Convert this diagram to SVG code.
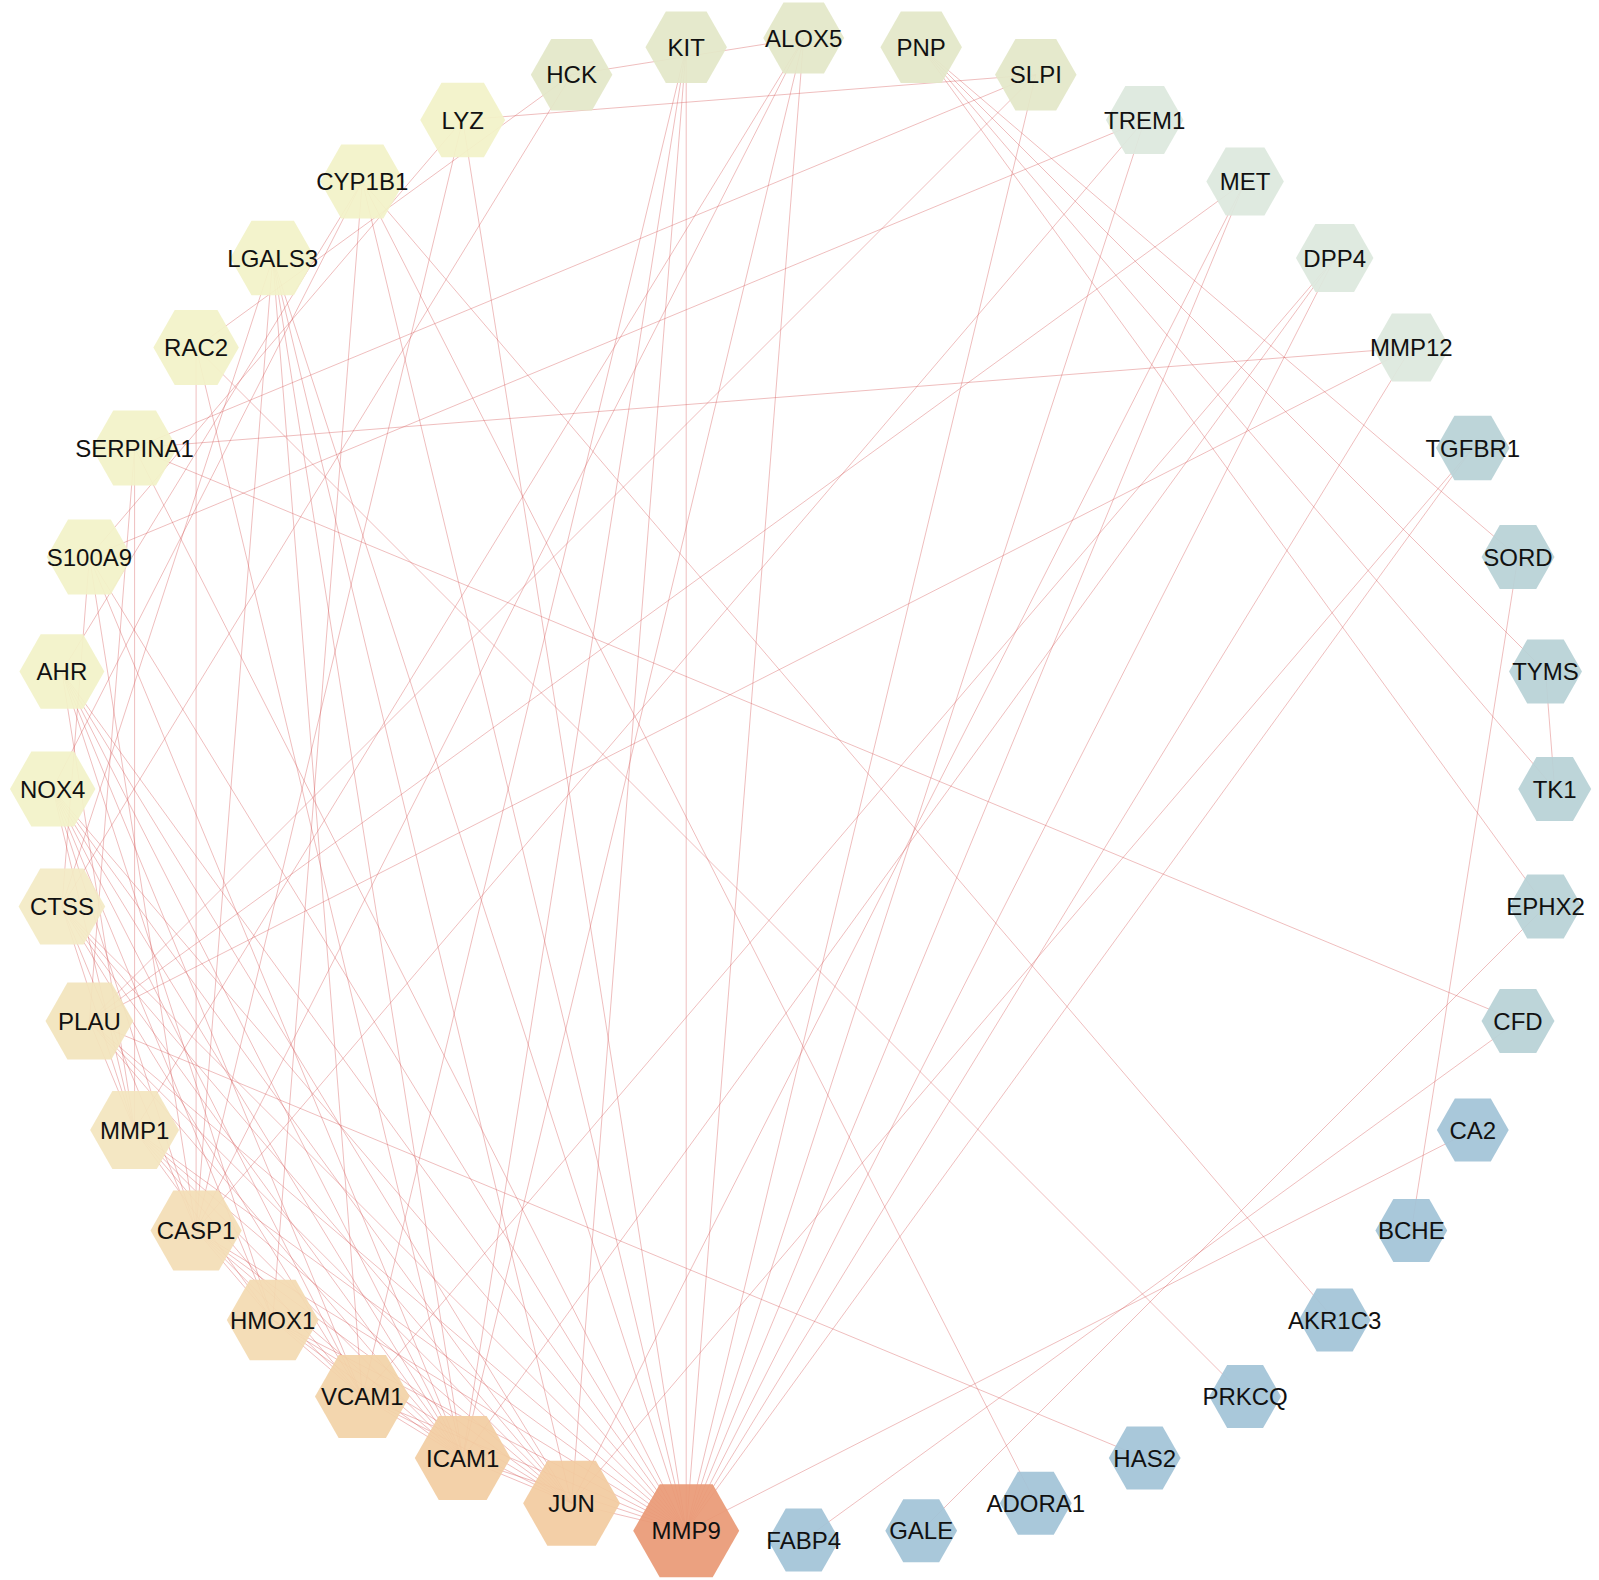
<svg xmlns="http://www.w3.org/2000/svg" xmlns:xlink="http://www.w3.org/1999/xlink" width="1599" height="1580" viewBox="0 0 1599 1580">
<defs>
<polygon id="hex" points="-0.57,0 -0.285,-0.5 0.285,-0.5 0.57,0 0.285,0.5 -0.285,0.5"/>
<style>
.e{stroke:#D85C5C;stroke-opacity:0.4;stroke-width:1;fill:none}
.n use{fill-opacity:0.93}
.n text{font-family:"Liberation Sans",Arial,Helvetica,sans-serif;font-size:24px;fill:#111;text-anchor:middle}
.y{fill:#F2F2C8}.g4{fill:#E3E7C8}.g3{fill:#DDE8DE}.g2{fill:#B8D2D6}.g1{fill:#A2C4D7}
</style>
</defs>
<rect width="1599" height="1580" fill="#fff"/>
<g id="edges" class="e">
<line x1="921.2" y1="47.2" x2="1518" y2="556.9"/>
<line x1="921.2" y1="47.2" x2="1545.5" y2="671.5"/>
<line x1="921.2" y1="47.2" x2="1554.7" y2="789"/>
<line x1="921.2" y1="47.2" x2="1545.5" y2="906.5"/>
<line x1="1545.5" y1="671.5" x2="1554.7" y2="789"/>
<line x1="1518" y1="556.9" x2="1411.3" y2="1230.4"/>
<line x1="1518" y1="1021.1" x2="134.6" y2="448"/>
<line x1="1518" y1="1021.1" x2="803.7" y2="1540"/>
<line x1="1545.5" y1="906.5" x2="921.2" y2="1530.8"/>
<line x1="686.2" y1="1530.8" x2="1472.8" y2="1130"/>
<line x1="1144.7" y1="1458.1" x2="89.4" y2="1021.1"/>
<line x1="1245.1" y1="1396.6" x2="196.1" y2="347.6"/>
<line x1="1334.7" y1="1320" x2="362.3" y2="181.4"/>
<line x1="1035.8" y1="1503.3" x2="362.3" y2="181.4"/>
<line x1="1411.3" y1="347.6" x2="134.6" y2="448"/>
<line x1="1411.3" y1="347.6" x2="89.4" y2="1021.1"/>
<line x1="1411.3" y1="347.6" x2="686.2" y2="1530.8"/>
<line x1="1245.1" y1="181.4" x2="89.4" y2="1021.1"/>
<line x1="1245.1" y1="181.4" x2="686.2" y2="1530.8"/>
<line x1="1245.1" y1="181.4" x2="571.6" y2="1503.3"/>
<line x1="1144.7" y1="119.9" x2="89.4" y2="556.9"/>
<line x1="1144.7" y1="119.9" x2="196.1" y2="1230.4"/>
<line x1="1144.7" y1="119.9" x2="686.2" y2="1530.8"/>
<line x1="1035.8" y1="74.7" x2="462.7" y2="119.9"/>
<line x1="1035.8" y1="74.7" x2="134.6" y2="448"/>
<line x1="1035.8" y1="74.7" x2="89.4" y2="1021.1"/>
<line x1="1035.8" y1="74.7" x2="686.2" y2="1530.8"/>
<line x1="686.2" y1="47.2" x2="686.2" y2="1530.8"/>
<line x1="686.2" y1="47.2" x2="571.6" y2="1503.3"/>
<line x1="686.2" y1="47.2" x2="462.7" y2="1458.1"/>
<line x1="686.2" y1="47.2" x2="362.3" y2="1396.6"/>
<line x1="571.6" y1="74.7" x2="803.7" y2="38"/>
<line x1="803.7" y1="38" x2="686.2" y2="1530.8"/>
<line x1="803.7" y1="38" x2="462.7" y2="1458.1"/>
<line x1="803.7" y1="38" x2="196.1" y2="1230.4"/>
<line x1="803.7" y1="38" x2="134.6" y2="1130"/>
<line x1="1334.7" y1="258" x2="686.2" y2="1530.8"/>
<line x1="1334.7" y1="258" x2="462.7" y2="1458.1"/>
<line x1="1334.7" y1="258" x2="362.3" y2="1396.6"/>
<line x1="1472.8" y1="448" x2="571.6" y2="1503.3"/>
<line x1="1472.8" y1="448" x2="686.2" y2="1530.8"/>
<line x1="571.6" y1="74.7" x2="196.1" y2="347.6"/>
<line x1="571.6" y1="74.7" x2="61.9" y2="906.5"/>
<line x1="462.7" y1="119.9" x2="686.2" y2="1530.8"/>
<line x1="196.1" y1="347.6" x2="196.1" y2="1230.4"/>
<line x1="196.1" y1="347.6" x2="462.7" y2="1458.1"/>
<line x1="134.6" y1="448" x2="686.2" y2="1530.8"/>
<line x1="89.4" y1="556.9" x2="61.9" y2="906.5"/>
<line x1="462.7" y1="119.9" x2="89.4" y2="556.9"/>
<line x1="462.7" y1="119.9" x2="196.1" y2="1230.4"/>
<line x1="272.7" y1="258" x2="686.2" y2="1530.8"/>
<line x1="272.7" y1="258" x2="571.6" y2="1503.3"/>
<line x1="272.7" y1="258" x2="462.7" y2="1458.1"/>
<line x1="272.7" y1="258" x2="362.3" y2="1396.6"/>
<line x1="272.7" y1="258" x2="196.1" y2="1230.4"/>
<line x1="272.7" y1="258" x2="61.9" y2="906.5"/>
<line x1="362.3" y1="181.4" x2="61.9" y2="671.5"/>
<line x1="362.3" y1="181.4" x2="272.7" y2="1320"/>
<line x1="362.3" y1="181.4" x2="686.2" y2="1530.8"/>
<line x1="362.3" y1="181.4" x2="52.7" y2="789"/>
<line x1="89.4" y1="556.9" x2="686.2" y2="1530.8"/>
<line x1="89.4" y1="556.9" x2="462.7" y2="1458.1"/>
<line x1="89.4" y1="556.9" x2="196.1" y2="1230.4"/>
<line x1="61.9" y1="671.5" x2="686.2" y2="1530.8"/>
<line x1="61.9" y1="671.5" x2="571.6" y2="1503.3"/>
<line x1="61.9" y1="671.5" x2="462.7" y2="1458.1"/>
<line x1="61.9" y1="671.5" x2="362.3" y2="1396.6"/>
<line x1="61.9" y1="671.5" x2="272.7" y2="1320"/>
<line x1="61.9" y1="671.5" x2="134.6" y2="1130"/>
<line x1="52.7" y1="789" x2="686.2" y2="1530.8"/>
<line x1="52.7" y1="789" x2="571.6" y2="1503.3"/>
<line x1="52.7" y1="789" x2="462.7" y2="1458.1"/>
<line x1="52.7" y1="789" x2="362.3" y2="1396.6"/>
<line x1="52.7" y1="789" x2="272.7" y2="1320"/>
<line x1="52.7" y1="789" x2="196.1" y2="1230.4"/>
<line x1="52.7" y1="789" x2="134.6" y2="1130"/>
<line x1="61.9" y1="906.5" x2="686.2" y2="1530.8"/>
<line x1="61.9" y1="906.5" x2="571.6" y2="1503.3"/>
<line x1="61.9" y1="906.5" x2="462.7" y2="1458.1"/>
<line x1="61.9" y1="906.5" x2="362.3" y2="1396.6"/>
<line x1="61.9" y1="906.5" x2="196.1" y2="1230.4"/>
<line x1="61.9" y1="906.5" x2="134.6" y2="1130"/>
<line x1="89.4" y1="1021.1" x2="686.2" y2="1530.8"/>
<line x1="89.4" y1="1021.1" x2="571.6" y2="1503.3"/>
<line x1="89.4" y1="1021.1" x2="462.7" y2="1458.1"/>
<line x1="89.4" y1="1021.1" x2="134.6" y2="448"/>
<line x1="89.4" y1="1021.1" x2="134.6" y2="1130"/>
<line x1="134.6" y1="1130" x2="686.2" y2="1530.8"/>
<line x1="134.6" y1="1130" x2="571.6" y2="1503.3"/>
<line x1="134.6" y1="1130" x2="462.7" y2="1458.1"/>
<line x1="134.6" y1="1130" x2="362.3" y2="1396.6"/>
<line x1="134.6" y1="1130" x2="272.7" y2="1320"/>
<line x1="196.1" y1="1230.4" x2="686.2" y2="1530.8"/>
<line x1="196.1" y1="1230.4" x2="571.6" y2="1503.3"/>
<line x1="196.1" y1="1230.4" x2="462.7" y2="1458.1"/>
<line x1="196.1" y1="1230.4" x2="362.3" y2="1396.6"/>
<line x1="196.1" y1="1230.4" x2="272.7" y2="1320"/>
<line x1="272.7" y1="1320" x2="686.2" y2="1530.8"/>
<line x1="272.7" y1="1320" x2="571.6" y2="1503.3"/>
<line x1="272.7" y1="1320" x2="462.7" y2="1458.1"/>
<line x1="272.7" y1="1320" x2="362.3" y2="1396.6"/>
<line x1="362.3" y1="1396.6" x2="686.2" y2="1530.8"/>
<line x1="362.3" y1="1396.6" x2="571.6" y2="1503.3"/>
<line x1="362.3" y1="1396.6" x2="462.7" y2="1458.1"/>
<line x1="462.7" y1="1458.1" x2="686.2" y2="1530.8"/>
<line x1="462.7" y1="1458.1" x2="571.6" y2="1503.3"/>
<line x1="571.6" y1="1503.3" x2="686.2" y2="1530.8"/>
<line x1="134.6" y1="448" x2="134.6" y2="1130"/>
</g>
<g id="nodes" class="n">
<g id="n-ALOX5"><use xlink:href="#hex" class="g4" transform="translate(803.7,38) scale(71)"/><text x="803.7" y="46.6">ALOX5</text></g>
<g id="n-PNP"><use xlink:href="#hex" class="g4" transform="translate(921.2,47.2) scale(71.5)"/><text x="921.2" y="55.8">PNP</text></g>
<g id="n-SLPI"><use xlink:href="#hex" class="g4" transform="translate(1035.8,74.7) scale(71.5)"/><text x="1035.8" y="83.3">SLPI</text></g>
<g id="n-TREM1"><use xlink:href="#hex" class="g3" transform="translate(1144.7,119.9) scale(68)"/><text x="1144.7" y="128.5">TREM1</text></g>
<g id="n-MET"><use xlink:href="#hex" class="g3" transform="translate(1245.1,181.4) scale(68)"/><text x="1245.1" y="190">MET</text></g>
<g id="n-DPP4"><use xlink:href="#hex" class="g3" transform="translate(1334.7,258) scale(68)"/><text x="1334.7" y="266.6">DPP4</text></g>
<g id="n-MMP12"><use xlink:href="#hex" class="g3" transform="translate(1411.3,347.6) scale(68)"/><text x="1411.3" y="356.2">MMP12</text></g>
<g id="n-TGFBR1"><use xlink:href="#hex" class="g2" transform="translate(1472.8,448) scale(64.5)"/><text x="1472.8" y="456.6">TGFBR1</text></g>
<g id="n-SORD"><use xlink:href="#hex" class="g2" transform="translate(1518,556.9) scale(64)"/><text x="1518" y="565.5">SORD</text></g>
<g id="n-TYMS"><use xlink:href="#hex" class="g2" transform="translate(1545.5,671.5) scale(64)"/><text x="1545.5" y="680.1">TYMS</text></g>
<g id="n-TK1"><use xlink:href="#hex" class="g2" transform="translate(1554.7,789) scale(64)"/><text x="1554.7" y="797.6">TK1</text></g>
<g id="n-EPHX2"><use xlink:href="#hex" class="g2" transform="translate(1545.5,906.5) scale(64)"/><text x="1545.5" y="915.1">EPHX2</text></g>
<g id="n-CFD"><use xlink:href="#hex" class="g2" transform="translate(1518,1021.1) scale(64)"/><text x="1518" y="1029.7">CFD</text></g>
<g id="n-CA2"><use xlink:href="#hex" class="g1" transform="translate(1472.8,1130) scale(63)"/><text x="1472.8" y="1138.6">CA2</text></g>
<g id="n-BCHE"><use xlink:href="#hex" class="g1" transform="translate(1411.3,1230.4) scale(63)"/><text x="1411.3" y="1239">BCHE</text></g>
<g id="n-AKR1C3"><use xlink:href="#hex" class="g1" transform="translate(1334.7,1320) scale(63)"/><text x="1334.7" y="1328.6">AKR1C3</text></g>
<g id="n-PRKCQ"><use xlink:href="#hex" class="g1" transform="translate(1245.1,1396.6) scale(63)"/><text x="1245.1" y="1405.2">PRKCQ</text></g>
<g id="n-HAS2"><use xlink:href="#hex" class="g1" transform="translate(1144.7,1458.1) scale(63)"/><text x="1144.7" y="1466.7">HAS2</text></g>
<g id="n-ADORA1"><use xlink:href="#hex" class="g1" transform="translate(1035.8,1503.3) scale(63)"/><text x="1035.8" y="1511.9">ADORA1</text></g>
<g id="n-GALE"><use xlink:href="#hex" class="g1" transform="translate(921.2,1530.8) scale(63)"/><text x="921.2" y="1539.4">GALE</text></g>
<g id="n-FABP4"><use xlink:href="#hex" class="g1" transform="translate(803.7,1540) scale(63)"/><text x="803.7" y="1548.6">FABP4</text></g>
<g id="n-MMP9"><use xlink:href="#hex" fill="#E99A76" transform="translate(686.2,1530.8) scale(93)"/><text x="686.2" y="1539.4">MMP9</text></g>
<g id="n-JUN"><use xlink:href="#hex" fill="#F2CBA0" transform="translate(571.6,1503.3) scale(85)"/><text x="571.6" y="1511.9">JUN</text></g>
<g id="n-ICAM1"><use xlink:href="#hex" fill="#F2CEA3" transform="translate(462.7,1458.1) scale(84)"/><text x="462.7" y="1466.7">ICAM1</text></g>
<g id="n-VCAM1"><use xlink:href="#hex" fill="#F2D3A8" transform="translate(362.3,1396.6) scale(83)"/><text x="362.3" y="1405.2">VCAM1</text></g>
<g id="n-HMOX1"><use xlink:href="#hex" fill="#F3DAB1" transform="translate(272.7,1320) scale(80.5)"/><text x="272.7" y="1328.6">HMOX1</text></g>
<g id="n-CASP1"><use xlink:href="#hex" fill="#F3DEB6" transform="translate(196.1,1230.4) scale(80)"/><text x="196.1" y="1239">CASP1</text></g>
<g id="n-MMP1"><use xlink:href="#hex" fill="#F3E5BE" transform="translate(134.6,1130) scale(78)"/><text x="134.6" y="1138.6">MMP1</text></g>
<g id="n-PLAU"><use xlink:href="#hex" fill="#F2E4BC" transform="translate(89.4,1021.1) scale(77)"/><text x="89.4" y="1029.7">PLAU</text></g>
<g id="n-CTSS"><use xlink:href="#hex" fill="#F3EBC5" transform="translate(61.9,906.5) scale(76)"/><text x="61.9" y="915.1">CTSS</text></g>
<g id="n-NOX4"><use xlink:href="#hex" class="y" transform="translate(52.7,789) scale(75)"/><text x="52.7" y="797.6">NOX4</text></g>
<g id="n-AHR"><use xlink:href="#hex" class="y" transform="translate(61.9,671.5) scale(74.5)"/><text x="61.9" y="680.1">AHR</text></g>
<g id="n-S100A9"><use xlink:href="#hex" class="y" transform="translate(89.4,556.9) scale(75)"/><text x="89.4" y="565.5">S100A9</text></g>
<g id="n-SERPINA1"><use xlink:href="#hex" class="y" transform="translate(134.6,448) scale(75)"/><text x="134.6" y="456.6">SERPINA1</text></g>
<g id="n-RAC2"><use xlink:href="#hex" class="y" transform="translate(196.1,347.6) scale(75)"/><text x="196.1" y="356.2">RAC2</text></g>
<g id="n-LGALS3"><use xlink:href="#hex" class="y" transform="translate(272.7,258) scale(74.5)"/><text x="272.7" y="266.6">LGALS3</text></g>
<g id="n-CYP1B1"><use xlink:href="#hex" class="y" transform="translate(362.3,181.4) scale(74)"/><text x="362.3" y="190">CYP1B1</text></g>
<g id="n-LYZ"><use xlink:href="#hex" class="y" transform="translate(462.7,119.9) scale(74.5)"/><text x="462.7" y="128.5">LYZ</text></g>
<g id="n-HCK"><use xlink:href="#hex" class="g4" transform="translate(571.6,74.7) scale(71.5)"/><text x="571.6" y="83.3">HCK</text></g>
<g id="n-KIT"><use xlink:href="#hex" class="g4" transform="translate(686.2,47.2) scale(71.5)"/><text x="686.2" y="55.8">KIT</text></g>
</g>
</svg>
